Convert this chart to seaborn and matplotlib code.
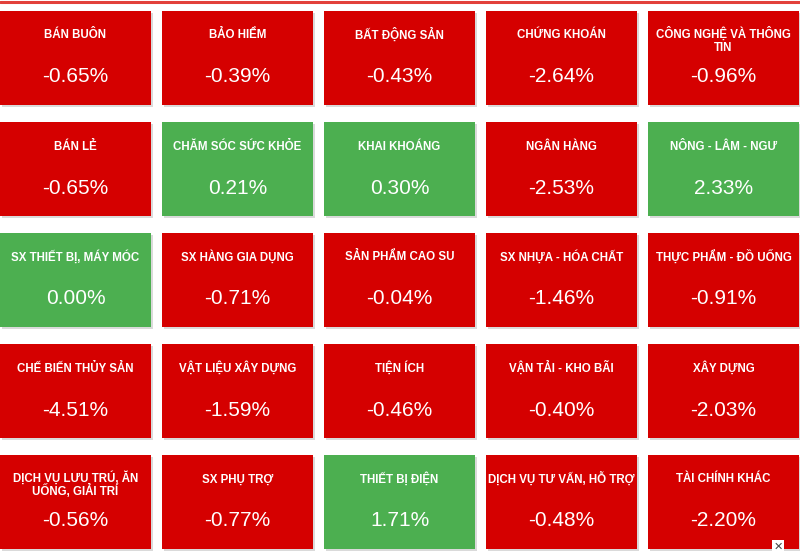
import numpy as np
import pandas as pd
import matplotlib.pyplot as plt
import seaborn as sns

# Sector names (line breaks as in the tiles) and daily change in %
sectors = [
    "BÁN BUÔN", "BẢO HIỂM", "BẤT ĐỘNG SẢN", "CHỨNG KHOÁN", "CÔNG NGHỆ VÀ THÔNG\nTIN",
    "BÁN LẺ", "CHĂM SÓC SỨC KHỎE", "KHAI KHOÁNG", "NGÂN HÀNG", "NÔNG - LÂM - NGƯ",
    "SX THIẾT BỊ, MÁY MÓC", "SX HÀNG GIA DỤNG", "SẢN PHẨM CAO SU", "SX NHỰA - HÓA CHẤT", "THỰC PHẨM - ĐỒ UỐNG",
    "CHẾ BIẾN THỦY SẢN", "VẬT LIỆU XÂY DỰNG", "TIỆN ÍCH", "VẬN TẢI - KHO BÃI", "XÂY DỰNG",
    "DỊCH VỤ LƯU TRÚ, ĂN\nUỐNG, GIẢI TRÍ", "SX PHỤ TRỢ", "THIẾT BỊ ĐIỆN", "DỊCH VỤ TƯ VẤN, HỖ TRỢ", "TÀI CHÍNH KHÁC",
]
changes = [
    -0.65, -0.39, -0.43, -2.64, -0.96,
    -0.65, 0.21, 0.30, -2.53, 2.33,
    0.00, -0.71, -0.04, -1.46, -0.91,
    -4.51, -1.59, -0.46, -0.40, -2.03,
    -0.56, -0.77, 1.71, -0.48, -2.20,
]

n_cols = 5
df = pd.DataFrame({"sector": sectors, "change": changes})
df["col"] = np.arange(len(df)) % n_cols
df["row"] = np.arange(len(df)) // n_cols

# Tile layout in pixels
tile_w, tile_h = 151, 94
pitch_x, pitch_y = 162, 111
top0 = 11
df["left"] = df["col"] * pitch_x
df["top"] = top0 + df["row"] * pitch_y
df["color"] = np.where(df["change"] >= 0, "#4CAF50", "#D50000")

sns.set_theme(style="white")
plt.rcParams["font.family"] = ["Liberation Sans", "DejaVu Sans"]

fig = plt.figure(figsize=(8, 5.54), dpi=100)
ax = fig.add_axes([0, 0, 1, 1])
ax.set_xlim(0, 800)
ax.set_ylim(554, 0)
ax.axis("off")

# red line on top
ax.axhline(1.5, color="#E2403A", linewidth=2.2)

# soft shadow then tiles
ax.bar(df["left"] + 1.5, tile_h, width=tile_w, bottom=df["top"] + 1.5, align="edge",
       color="#DADADA", linewidth=0)
ax.bar(df["left"], tile_h, width=tile_w, bottom=df["top"], align="edge",
       color=df["color"], linewidth=0)

for _, r in df.iterrows():
    cx = r["left"] + tile_w / 2
    lines = r["sector"].split("\n")
    base = r["top"] + (27.5 if len(lines) == 1 else 26.5)
    for i, line in enumerate(lines):
        ax.text(cx, base + i * 13.5, line, ha="center", va="baseline", color="white",
                fontsize=8.3, fontweight="bold")
    ax.text(cx, r["top"] + 71.5, f"{r['change']:.2f}%", ha="center", va="baseline",
            color="white", fontsize=15)

# small close button
ax.text(778, 547, "✕", ha="center", va="center", fontsize=8, color="#444444",
        family="DejaVu Sans",
        bbox=dict(boxstyle="square,pad=0.15", facecolor="white", edgecolor="none"))

fig.savefig("out.png", dpi=100)
